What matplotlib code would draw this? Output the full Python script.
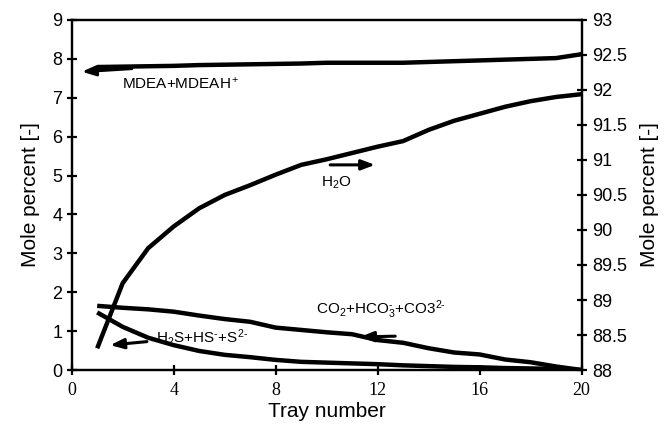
import matplotlib
matplotlib.use("Agg")
import matplotlib.pyplot as plt

plt.rcParams['font.family'] = ['Liberation Sans', 'DejaVu Sans']
plt.rcParams['mathtext.fontset'] = 'custom'
plt.rcParams['mathtext.rm'] = 'Liberation Sans'
plt.rcParams['mathtext.it'] = 'Liberation Sans'

# tray number
trays = list(range(1, 21))

# left axis series (mole percent)
mdea = [7.79, 7.80, 7.81, 7.82, 7.84, 7.85, 7.86, 7.87, 7.88, 7.90,
        7.90, 7.90, 7.90, 7.92, 7.94, 7.96, 7.98, 8.00, 8.02, 8.12]
co2 = [1.65, 1.60, 1.56, 1.50, 1.40, 1.31, 1.24, 1.09, 1.03, 0.97,
       0.92, 0.77, 0.70, 0.56, 0.45, 0.40, 0.27, 0.20, 0.09, 0.0]
h2s = [1.48, 1.11, 0.83, 0.64, 0.49, 0.39, 0.33, 0.26, 0.21, 0.19,
       0.17, 0.15, 0.12, 0.10, 0.08, 0.07, 0.05, 0.04, 0.03, 0.0]

# right axis series (mole percent)
h2o = [88.31, 89.24, 89.74, 90.05, 90.31, 90.50, 90.64, 90.79, 90.93, 91.01,
       91.10, 91.19, 91.27, 91.43, 91.56, 91.66, 91.76, 91.84, 91.90, 91.94]

x_ticks = [0, 4, 8, 12, 16, 20]
left_ticks = list(range(0, 10))
right_ticks = [88, 88.5, 89, 89.5, 90, 90.5, 91, 91.5, 92, 92.5, 93]
right_labels = ['88', '88.5', '89', '89.5', '90', '90.5', '91', '91.5',
                '92', '92.5', '93']

fig = plt.figure(figsize=(6.7, 4.37), dpi=100)
ax = fig.add_axes([0.107, 0.1533, 0.761, 0.801])
ax2 = ax.twinx()

lw = 3.2
ax.plot(trays, mdea, color='black', lw=lw, solid_capstyle='butt')
ax.plot(trays, co2, color='black', lw=lw, solid_capstyle='butt')
ax.plot(trays, h2s, color='black', lw=lw, solid_capstyle='butt')
ax2.plot(trays, h2o, color='black', lw=lw, solid_capstyle='butt')

ax.set_xlim(0, 20)
ax.set_ylim(0, 9)
ax2.set_ylim(88, 93)
ax.set_xticks(x_ticks)
ax.set_yticks(left_ticks)
ax2.set_yticks(right_ticks)
ax2.set_yticklabels(right_labels)

for a in (ax, ax2):
    for s in a.spines.values():
        s.set_linewidth(1.6)
ax.tick_params(axis='both', direction='inout', length=7.5, width=1.6,
               labelsize=13)
ax.tick_params(axis='y', pad=3)
ax.tick_params(axis='x', pad=5)
ax2.tick_params(axis='y', direction='inout', length=7.5, width=1.6,
                labelsize=13, pad=4)
for lab in ax.get_xticklabels():
    lab.set_fontfamily('Liberation Serif')

ax.set_xlabel('Tray number', fontsize=15, labelpad=2)
ax.set_ylabel('Mole percent [-]', fontsize=15, labelpad=9)
ax2.set_ylabel('Mole percent [-]', fontsize=15, labelpad=9)

arrow = dict(arrowstyle='-|>,head_length=0.8,head_width=0.3', color='black',
             lw=2.2, shrinkA=0, shrinkB=0)
fs = 11

ax.annotate('', xy=(0.40, 7.67), xytext=(2.36, 7.75), arrowprops=arrow)
ax.text(1.97, 7.37, 'MDEA+MDEAH$^+$', fontsize=fs, va='center', ha='left')

ax2.annotate('', xy=(11.9, 90.93), xytext=(10.14, 90.93), arrowprops=arrow)
ax2.text(10.37, 90.67, 'H$_2$O', fontsize=fs, va='center', ha='center')

ax.annotate('', xy=(11.31, 0.85), xytext=(12.69, 0.87), arrowprops=arrow)
ax.text(9.6, 1.54, r'CO$_2$+HCO$_3^{\text{-}}$+CO3$^{2\text{-}}$', fontsize=fs,
        va='center', ha='left')

ax.annotate('', xy=(1.51, 0.64), xytext=(2.95, 0.73), arrowprops=arrow)
ax.text(3.31, 0.83, r'H$_2$S+HS$^{\text{-}}$+S$^{2\text{-}}$', fontsize=fs,
        va='center', ha='left')

fig.savefig('out.png', dpi=100)
